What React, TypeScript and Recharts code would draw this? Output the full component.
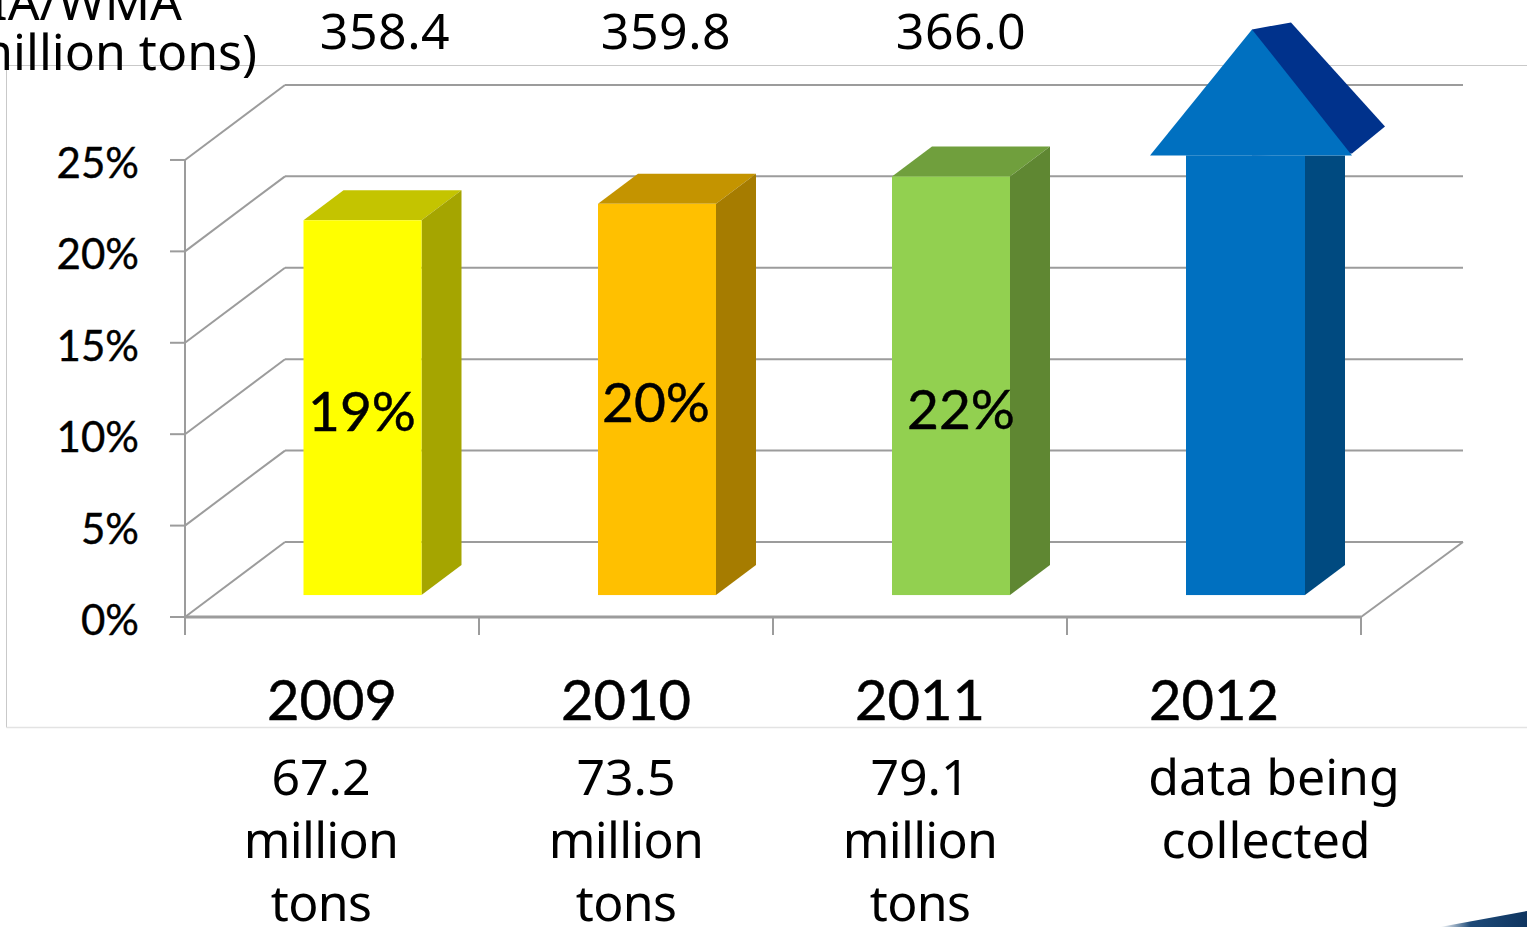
import { BarChart, Bar, CartesianGrid, XAxis, YAxis, LabelList } from 'recharts'

const years = ['2009', '2010', '2011', '2012']
// bar heights as read against the axis, the 2012 one is the arrow
const barHeights = [20.5, 21.4, 22.9, 24.05]
const shareLabels = ['19%', '20%', '22%', null]
const topValues = ['358.4', '359.8', '366.0']
const tonnage = [
  ['67.2', 'million', 'tons'],
  ['73.5', 'million', 'tons'],
  ['79.1', 'million', 'tons'],
  ['data being', 'collected'],
]
const percentTicks = [0, 5, 10, 15, 20, 25]

// the boxes stand a little in front of the axis zero, on the 3D floor
const FLOOR_GAP = 1.2

const data = years.map((year, i) => ({
  year,
  range: [FLOOR_GAP, FLOOR_GAP + barHeights[i]],
  share: shareLabels[i],
}))

const GRID = '#9c9c9c'
const LABEL_FONT = 'Lato, sans-serif'
const TEXT_FONT = '"Noto Sans", sans-serif'
const STEP = 91.4
const HALF_BAND = 147

const faces = [
  { front: '#ffff00', top: '#c4c400', side: '#a5a500' },
  { front: '#ffc000', top: '#c49400', side: '#a67c00' },
  { front: '#92d050', top: '#709f3d', side: '#5f8732' },
  { front: '#0070c0', top: '#00328c', side: '#004a80' },
]

// back wall line and the diagonal to the front axis, drawn for every percent tick
const WallLine = ({ x1, x2, y1, index }: any) => (
  <g key={index}>
    <line x1={x1 + 100} y1={y1 - 75} x2={x2 + 102} y2={y1 - 75} stroke={GRID} strokeWidth={2} />
    <line x1={x1} y1={y1} x2={x1 + 100} y2={y1 - 75} stroke={GRID} strokeWidth={2} />
    {index === 0 && <line x1={x2} y1={y1} x2={x2 + 102} y2={y1 - 75} stroke={GRID} strokeWidth={2} />}
  </g>
)

const YTick = ({ x, y, payload }: any) => (
  <g>
    <line x1={x - 15} y1={y} x2={x} y2={y} stroke={GRID} strokeWidth={2} />
    <line x1={x} y1={y} x2={x} y2={payload.value === 0 ? y + 18 : y + STEP} stroke={GRID} strokeWidth={2} />
    <text
      x={x - 46}
      y={y + 18}
      textAnchor="end"
      fontFamily={LABEL_FONT}
      fontSize={42}
      fill="#000"
      stroke="#000"
      strokeWidth={0.4}
    >
      {payload.value}%
    </text>
  </g>
)

const subShift = [-11, 0, 0, 56]
const subNudge: Record<string, number> = { 'data being': 4, collected: -4 }
const topShift = [53, 40, 41]

const XTick = ({ x, y, payload, index }: any) => (
  <g>
    <line x1={x - HALF_BAND} y1={y} x2={x - HALF_BAND} y2={y + 18} stroke={GRID} strokeWidth={2} />
    <line x1={x + HALF_BAND} y1={y} x2={x + HALF_BAND} y2={y + 18} stroke={GRID} strokeWidth={2} />
    <text
      x={x}
      y={720}
      textAnchor="middle"
      fontFamily={LABEL_FONT}
      fontSize={56}
      fill="#000"
      stroke="#000"
      strokeWidth={0.5}
    >
      {payload.value}
    </text>
    {tonnage[index].map((line, i) => (
      <text
        key={line}
        x={x + subShift[index] + (subNudge[line] ?? 0)}
        y={795 + i * 63}
        textAnchor="middle"
        fontFamily={TEXT_FONT}
        fontSize={50}
        letterSpacing={line === 'million' || line === 'tons' ? -0.7 : 0}
        fill="#000"
      >
        {line}
      </text>
    ))}
    {topValues[index] && (
      <text
        x={x + topShift[index]}
        y={49}
        textAnchor="middle"
        fontFamily={TEXT_FONT}
        fontSize={50}
        letterSpacing={0.5}
        fill="#000"
      >
        {topValues[index]}
      </text>
    )}
  </g>
)

// front, top and side faces of a box, the last one gets an arrow head
const Box3D = ({ x, y, width, height, index }: any) => {
  const c = faces[index]
  const shift = index === 0 ? 30.5 : 31
  const l = x + shift
  const r = l + width + (index === 3 ? 1 : 0)
  const b = y + height
  if (index === 3) {
    const mid = l + 66
    return (
      <g>
        <polygon points={`${r},${y} ${r + 40},${y} ${r + 40},${b - 30} ${r},${b}`} fill={c.side} />
        <polygon
          points={`${mid},${y - 126} ${mid + 39},${y - 133} ${mid + 133},${y - 29} ${mid + 100},${y - 2} ${mid},${y}`}
          fill={c.top}
        />
        <rect x={l} y={y} width={r - l} height={height} fill={c.front} />
        <polygon points={`${mid - 102},${y} ${mid},${y - 126} ${mid + 100},${y}`} fill={c.front} />
      </g>
    )
  }
  return (
    <g>
      <polygon points={`${l},${y} ${l + 40},${y - 30} ${r + 40},${y - 30} ${r},${y}`} fill={c.top} />
      <polygon points={`${r},${y} ${r + 40},${y - 30} ${r + 40},${b - 30} ${r},${b}`} fill={c.side} />
      <rect x={l} y={y} width={width} height={height} fill={c.front} />
    </g>
  )
}

const labelShift = [
  { dx: 30, dy: 2 },
  { dx: 30, dy: 2 },
  { dx: 41, dy: 22 },
]

const ShareLabel = ({ x, y, width, height, value, index }: any) => {
  if (!value) return null
  return (
    <text
      x={x + width / 2 + labelShift[index].dx}
      y={y + height / 2 + labelShift[index].dy + 21}
      textAnchor="middle"
      fontFamily={LABEL_FONT}
      fontSize={55}
      fill="#000"
      stroke="#000"
      strokeWidth={0.5}
    >
      {value}
    </text>
  )
}

export default function App() {
  return (
    <div style={{ position: 'absolute', left: 0, top: 0, background: '#fff' }}>
      <BarChart
        width={1527}
        height={927}
        data={data}
        margin={{ top: 0, right: 166, bottom: 0, left: 0 }}
        barSize={118}
      >
        <defs>
          <linearGradient id="corner" x1="0" y1="0" x2="1" y2="0">
            <stop offset="0" stopColor="#ffffff" />
            <stop offset="0.35" stopColor="#1d4a78" />
            <stop offset="1" stopColor="#0f3560" />
          </linearGradient>
        </defs>
        <path d="M6.5 727.5 V65.5 H1527" fill="none" stroke="#c9c9c9" strokeWidth={1} />
        <path d="M6.5 727.5 H1527" fill="none" stroke="#e3e3e3" strokeWidth={1.5} />
        <polygon points="1440,927 1527,911 1527,927" fill="url(#corner)" />
        <text x={182} y={20} textAnchor="end" fontFamily={TEXT_FONT} fontSize={50} fill="#000">
          IA/WMA
        </text>
        <text x={257} y={70} textAnchor="end" fontFamily={TEXT_FONT} fontSize={50} fill="#000">
          million tons)
        </text>
        <CartesianGrid vertical={false} syncWithTicks horizontal={WallLine} />
        <YAxis
          width={185}
          domain={[0, 33.75]}
          ticks={percentTicks}
          interval={0}
          axisLine={false}
          tickLine={false}
          tickSize={0}
          tickMargin={0}
          tick={YTick}
        />
        <XAxis
          dataKey="year"
          height={310}
          interval={0}
          axisLine={{ stroke: GRID, strokeWidth: 3 }}
          tickLine={false}
          tickSize={0}
          tickMargin={0}
          tick={XTick}
        />
        <Bar dataKey="range" isAnimationActive={false} shape={Box3D}>
          <LabelList dataKey="share" content={ShareLabel} />
        </Bar>
      </BarChart>
    </div>
  )
}
